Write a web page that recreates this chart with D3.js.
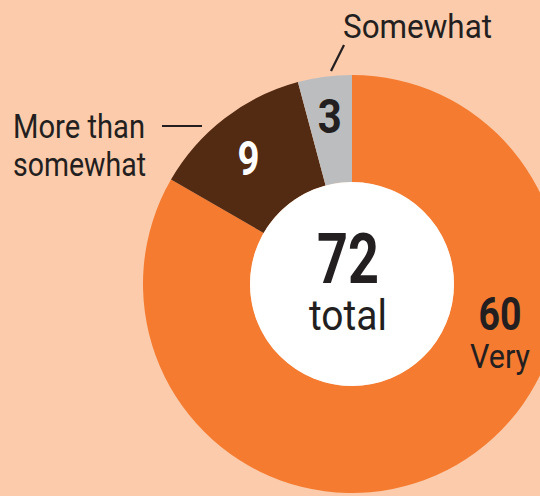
<!DOCTYPE html>
<html><head><meta charset="utf-8">
<script src="https://cdn.jsdelivr.net/npm/d3@7"></script>
<style>
html,body{margin:0;padding:0;background:#fccbab;}
svg{display:block;}
text{font-family:"Liberation Sans Narrow","Roboto","DejaVu Sans Condensed",sans-serif;fill:#231f20;}
</style></head>
<body><div id="chart"></div>
<script>
const categories = ["Very", "More than somewhat", "Somewhat"];
const values = [60, 9, 3];
const colors = ["#f47b30", "#532a12", "#bcbdbf"];
const valueTextColors = ["#231f20", "#ffffff", "#231f20"];
const totalLabel = "total";

const W = 540, H = 496;
const cx = 352, cy = 284, outerR = 209, innerR = 102;

const svg = d3.select("#chart").append("svg").attr("width", W).attr("height", H);
svg.append("rect").attr("width", W).attr("height", H).attr("fill", "#fccbab");

const g = svg.append("g").attr("transform", `translate(${cx},${cy})`);

const pie = d3.pie().sort(null).value(d => d)(values);
const arc = d3.arc().innerRadius(innerR).outerRadius(outerR);

g.selectAll("path.slice").data(pie).join("path")
  .attr("class", "slice")
  .attr("d", arc)
  .attr("fill", (d, i) => colors[i]);

g.append("circle").attr("r", innerR).attr("fill", "#ffffff");

const total = d3.sum(values);
g.append("text").attr("x", -4).attr("y", -1).attr("text-anchor", "middle")
  .attr("font-weight", "bold").attr("font-size", 70)
  .attr("textLength", 62).attr("lengthAdjust", "spacingAndGlyphs")
  .text(total);
g.append("text").attr("x", -4).attr("y", 46).attr("text-anchor", "middle")
  .attr("font-size", 42)
  .attr("textLength", 78).attr("lengthAdjust", "spacingAndGlyphs")
  .text(totalLabel);

// value labels inside the small slices
const labelRadii = [0, 160, 170];
const labelWidths = [0, 22, 24];
pie.forEach((d, i) => {
  if (i === 0) return;
  const la = d3.arc().innerRadius(labelRadii[i]).outerRadius(labelRadii[i]);
  const [x, y] = la.centroid(d);
  g.append("text").attr("x", x - (i === 1 ? 6 : 0)).attr("y", y + 18).attr("text-anchor", "middle")
    .attr("font-weight", "bold").attr("font-size", 49)
    .attr("textLength", labelWidths[i]).attr("lengthAdjust", "spacingAndGlyphs")
    .style("fill", valueTextColors[i])
    .text(values[i]);
});

// "Very" label, right side of the big slice
g.append("text").attr("x", 148).attr("y", 46).attr("text-anchor", "middle")
  .attr("font-weight", "bold").attr("font-size", 46)
  .attr("textLength", 43).attr("lengthAdjust", "spacingAndGlyphs")
  .text(values[0]);
g.append("text").attr("x", 148).attr("y", 84).attr("text-anchor", "middle")
  .attr("font-size", 33)
  .attr("textLength", 60).attr("lengthAdjust", "spacingAndGlyphs")
  .text(categories[0]);

// outer labels
svg.append("text").attr("x", 13).attr("y", 138).attr("font-size", 33)
  .attr("textLength", 132).attr("lengthAdjust", "spacingAndGlyphs")
  .text("More than");
svg.append("text").attr("x", 13).attr("y", 176).attr("font-size", 33)
  .attr("textLength", 133).attr("lengthAdjust", "spacingAndGlyphs")
  .text("somewhat");
svg.append("line").attr("x1", 162).attr("x2", 202).attr("y1", 126).attr("y2", 126)
  .attr("stroke", "#231f20").attr("stroke-width", 2.2);

svg.append("text").attr("x", 343).attr("y", 38).attr("font-size", 33)
  .attr("textLength", 149).attr("lengthAdjust", "spacingAndGlyphs")
  .text(categories[2]);
svg.append("line").attr("x1", 331).attr("y1", 71).attr("x2", 344).attr("y2", 45)
  .attr("stroke", "#231f20").attr("stroke-width", 2.2);
</script></body></html>
